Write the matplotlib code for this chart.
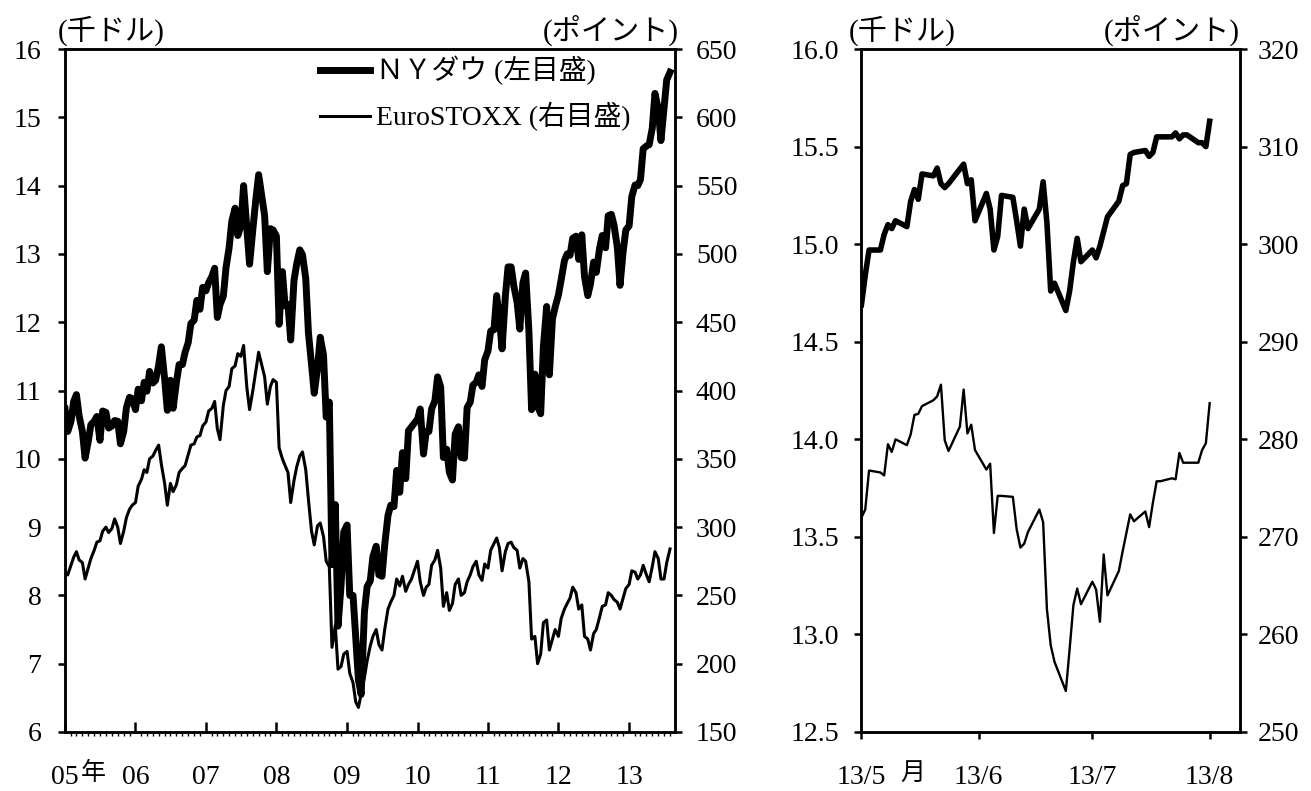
import matplotlib
matplotlib.use("Agg")
import matplotlib.pyplot as plt
import matplotlib.dates as md
import matplotlib.ticker as mt
import pandas as pd
import datetime

# Serif digits, Japanese glyphs fall back to the CJK family
plt.rcParams['font.family'] = ['Liberation Serif', 'Noto Sans CJK JP']

# ---- Left panel: 2005/1 - 2013/8, half-monthly readings ----
long_dates = pd.date_range('2005-01-01', '2013-08-01', freq='SMS')

# NY Dow (thousand dollars)
dow_long = [
    # 2005
    10.73, 10.40, 10.55, 10.84, 10.94, 10.63, 10.40, 10.01, 10.25, 10.50, 10.55, 10.62,
    10.27, 10.70, 10.68, 10.45, 10.48, 10.56, 10.55, 10.22, 10.40, 10.75, 10.90, 10.88,
    # 2006
    10.72, 11.02, 10.85, 11.12, 10.99, 11.28, 11.11, 11.15, 11.37, 11.64, 11.17, 10.71,
    11.15, 10.74, 11.12, 11.38, 11.38, 11.56, 11.70, 11.98, 12.03, 12.32, 12.19, 12.51,
    # 2007
    12.46, 12.58, 12.67, 12.79, 12.07, 12.26, 12.38, 12.80, 13.09, 13.48, 13.67, 13.27,
    13.41, 14.00, 13.36, 12.85, 13.36, 13.76, 14.16, 13.89, 13.56, 12.74, 13.37, 13.35,
    # 2008
    13.26, 11.97, 12.74, 12.24, 12.26, 11.74, 12.61, 12.85, 13.06, 12.99, 12.64, 11.84,
    11.38, 10.96, 11.33, 11.78, 11.52, 10.61, 10.83, 8.45, 9.33, 7.55, 8.15, 8.93,
    # 2009
    9.03, 8.00, 8.00, 7.37, 6.76, 6.55, 7.76, 8.13, 8.21, 8.57, 8.72, 8.30,
    8.28, 8.74, 9.17, 9.32, 9.30, 9.83, 9.51, 10.09, 9.71, 10.41, 10.47, 10.52,
    # 2010
    10.58, 10.73, 10.07, 10.40, 10.40, 10.73, 10.85, 11.20, 11.05, 10.02, 10.14, 9.80,
    9.69, 10.36, 10.47, 10.02, 10.01, 10.75, 10.83, 11.08, 11.12, 11.23, 11.06, 11.45,
    # 2011
    11.58, 11.87, 11.89, 12.39, 12.06, 11.61, 12.38, 12.81, 12.81, 12.53, 12.29, 11.90,
    12.58, 12.72, 11.87, 10.72, 11.24, 10.77, 10.66, 11.64, 12.23, 11.23, 12.05, 12.22,
    # 2012
    12.40, 12.62, 12.90, 13.00, 12.98, 13.23, 13.26, 12.92, 13.28, 12.67, 12.39, 12.56,
    12.88, 12.73, 13.08, 13.27, 13.09, 13.56, 13.58, 13.42, 13.10, 12.54, 13.03, 13.35,
    # 2013
    13.41, 13.84, 14.01, 14.00, 14.09, 14.54, 14.58, 14.60, 14.84, 15.35, 15.12, 14.66,
    15.14, 15.55, 15.66,
]

# EuroSTOXX (points)
euro_long = [
    # 2005
    268, 265, 272, 278, 282, 276, 274, 262, 270, 277, 283, 289,
    290, 297, 300, 296, 299, 306, 300, 288, 297, 307, 313, 316,
    # 2006
    318, 330, 335, 342, 340, 350, 352, 356, 360, 346, 332, 316,
    332, 326, 331, 340, 343, 345, 353, 360, 361, 366, 367, 374,
    # 2007
    377, 385, 387, 392, 372, 364, 389, 400, 403, 416, 418, 427,
    425, 433, 402, 386, 400, 413, 428, 420, 410, 390, 403, 408,
    # 2008
    406, 358, 350, 345, 340, 318, 334, 344, 352, 355, 342, 320,
    297, 287, 301, 303, 293, 275, 271, 212, 228, 196, 198, 207,
    # 2009
    209, 193, 186, 172, 168, 178, 190, 202, 213, 220, 225, 214,
    210, 225, 240, 245, 250, 262, 257, 264, 253, 258, 262, 268,
    # 2010
    275, 260, 250, 256, 258, 272, 276, 283, 270, 242, 252, 239,
    244, 258, 262, 250, 252, 260, 265, 271, 275, 265, 261, 273,
    # 2011
    270, 283, 288, 292, 285, 268, 282, 288, 289, 285, 283, 270,
    277, 275, 260, 218, 220, 200, 207, 230, 232, 210, 218, 225,
    # 2012
    220, 233, 240, 244, 248, 256, 252, 240, 243, 220, 218, 210,
    222, 225, 234, 242, 243, 252, 250, 247, 245, 240, 248, 255,
    # 2013
    258, 268, 267, 262, 265, 272, 265, 260, 271, 282, 277, 262,
    262, 274, 284,
]

# ---- Right panel: 2013/5/1 - 2013/8/1, daily ----
euro_dates = pd.bdate_range('2013-05-01', '2013-08-01')
us_holidays = [pd.Timestamp('2013-05-27'), pd.Timestamp('2013-07-04')]
dow_dates = euro_dates.drop(us_holidays)

dow_short = [
    14.69, 14.84, 14.97, 14.97, 15.05, 15.10, 15.08, 15.12, 15.09, 15.22, 15.28, 15.23,
    15.36, 15.35, 15.39, 15.31, 15.29, 15.31, 15.41, 15.31, 15.33, 15.12, 15.26, 15.18,
    14.97, 15.04, 15.25, 15.24, 15.12, 14.99, 15.18, 15.08, 15.18, 15.32, 15.11, 14.76,
    14.80, 14.66, 14.76, 14.91, 15.03, 14.91, 14.97, 14.93, 14.99, 15.14, 15.22, 15.30,
    15.31, 15.46, 15.47, 15.48, 15.45, 15.47, 15.55, 15.55, 15.55, 15.57, 15.54, 15.56,
    15.56, 15.52, 15.52, 15.50, 15.63,
]

euro_short = [
    272.0, 272.8, 276.8, 276.6, 276.3, 279.5, 278.7, 280.0, 279.4, 280.5, 282.5, 282.6,
    283.4, 284.0, 284.4, 285.6, 279.9, 278.8, 281.3, 285.1, 280.6, 281.5, 278.9, 276.9,
    277.5, 270.4, 274.2, 274.2, 274.1, 270.8, 268.9, 269.3, 270.5, 272.8, 271.5, 262.6,
    258.9, 257.2, 254.2, 258.5, 263.0, 264.7, 263.1, 265.4, 264.6, 261.3, 268.2, 264.0,
    266.5, 268.5, 270.4, 272.3, 271.6, 272.6, 271.0, 273.5, 275.7, 275.7, 276.0, 275.9,
    278.6, 277.6, 277.6, 277.6, 278.9, 279.6, 283.7,
]

FS = 20      # tick labels
FS_JP = 21   # unit headers
LW_SPINE = 1.8


def style_axes(ax):
    for s in ax.spines.values():
        s.set_linewidth(LW_SPINE)


fig = plt.figure(figsize=(13.11, 7.91), dpi=100)

# ================= Left panel =================
ax1 = fig.add_axes([0.0496, 0.0746, 0.4653, 0.8634])
ax1r = ax1.twinx()

h1, = ax1.plot(long_dates, dow_long, color='black', lw=5.0, solid_joinstyle='round')
h2, = ax1r.plot(long_dates, euro_long, color='black', lw=2.2)

ax1.set_xlim(datetime.date(2005, 1, 1), datetime.date(2013, 8, 27))
ax1.set_ylim(6, 16)
ax1.set_yticks(range(6, 17))
ax1r.set_ylim(150, 650)
ax1r.set_yticks(range(150, 651, 50))

ax1.xaxis.set_major_locator(md.YearLocator())
ax1.xaxis.set_minor_locator(md.MonthLocator())
ax1.xaxis.set_major_formatter(
    mt.FuncFormatter(lambda v, p: md.num2date(v).strftime('%y')))
ax1.tick_params(axis='x', which='major', direction='in', length=7, width=LW_SPINE,
                labelsize=FS, pad=24)
ax1.tick_params(axis='x', which='minor', direction='out', length=3, width=1.0)
ax1.tick_params(axis='y', direction='out', length=5, width=LW_SPINE, labelsize=FS, pad=12)
ax1r.tick_params(axis='y', direction='out', length=5, width=LW_SPINE, labelsize=FS, pad=10)
style_axes(ax1)
style_axes(ax1r)

ax1.annotate('年', xy=(datetime.date(2005, 1, 1), 0), xycoords=('data', 'axes fraction'),
             xytext=(11, -30), textcoords='offset points', ha='left', va='center',
             fontsize=18)
ax1.annotate('(千ドル)', xy=(0, 1), xycoords='axes fraction', xytext=(-5, 2),
             textcoords='offset points', ha='left', va='bottom', fontsize=FS_JP)
ax1.annotate('(ポイント)', xy=(1, 1), xycoords='axes fraction', xytext=(3, 2),
             textcoords='offset points', ha='right', va='bottom', fontsize=FS_JP)

ax1r.legend([h1, h2], ['ＮＹダウ (左目盛)', 'EuroSTOXX (右目盛)'],
            loc='upper left', bbox_to_anchor=(0.418, 0.99), frameon=False,
            fontsize=FS, handlelength=1.8, handletextpad=0.2, labelspacing=0.62,
            borderpad=0, borderaxespad=0)

# ================= Right panel =================
ax2 = fig.add_axes([0.6571, 0.0746, 0.2887, 0.8634])
ax2r = ax2.twinx()

ax2.plot(dow_dates, dow_short, color='black', lw=4.0, solid_joinstyle='round')
ax2r.plot(euro_dates, euro_short, color='black', lw=1.7)

ax2.set_xlim(datetime.date(2013, 5, 1), datetime.date(2013, 8, 9))
ax2.set_ylim(12.5, 16.0)
ax2.set_yticks([12.5, 13.0, 13.5, 14.0, 14.5, 15.0, 15.5, 16.0])
ax2.yaxis.set_major_formatter(mt.FormatStrFormatter('%.1f'))
ax2r.set_ylim(250, 320)
ax2r.set_yticks(range(250, 321, 10))

ax2.xaxis.set_major_locator(md.MonthLocator(bymonthday=1))
ax2.xaxis.set_major_formatter(
    mt.FuncFormatter(lambda v, p: md.num2date(v).strftime('%y/%-m')))
ax2.tick_params(axis='x', direction='out', length=5, width=LW_SPINE, labelsize=FS, pad=19)
ax2.tick_params(axis='y', direction='out', length=5, width=LW_SPINE, labelsize=FS, pad=11)
ax2r.tick_params(axis='y', direction='out', length=5, width=LW_SPINE, labelsize=FS, pad=8)
style_axes(ax2)
style_axes(ax2r)

ax2.annotate('月', xy=(datetime.date(2013, 5, 1), 0), xycoords=('data', 'axes fraction'),
             xytext=(28, -30), textcoords='offset points', ha='left', va='center',
             fontsize=18)
ax2.annotate('(千ドル)', xy=(0, 1), xycoords='axes fraction', xytext=(-9, 2),
             textcoords='offset points', ha='left', va='bottom', fontsize=FS_JP)
ax2.annotate('(ポイント)', xy=(1, 1), xycoords='axes fraction', xytext=(0, 2),
             textcoords='offset points', ha='right', va='bottom', fontsize=FS_JP)

fig.savefig('out.png', dpi=100)
